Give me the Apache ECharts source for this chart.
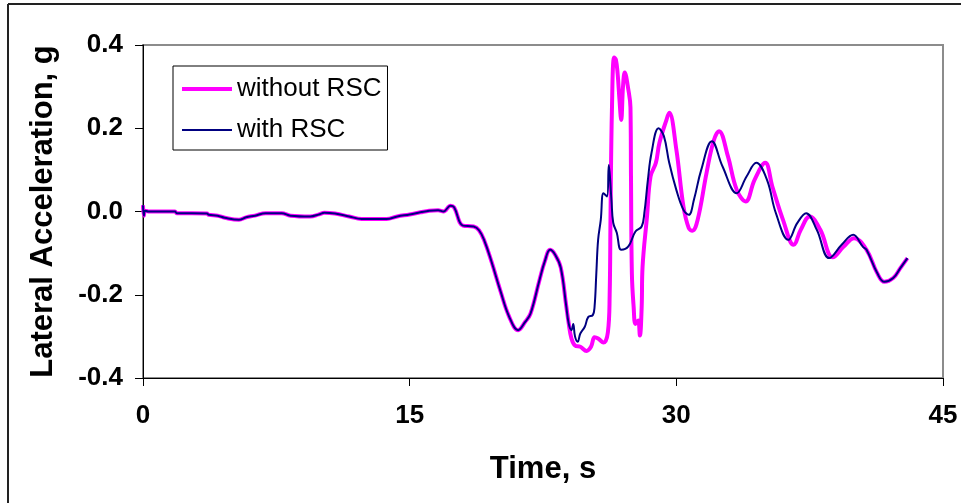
<!DOCTYPE html>
<html>
<head>
<meta charset="utf-8">
<script src="https://cdn.jsdelivr.net/npm/echarts@6/dist/echarts.min.js"></script>
<style>
html,body{margin:0;padding:0;background:#fff;}
#chart{width:961px;height:503px;}
</style>
</head>
<body>
<div id="chart"></div>
<script>
// Shared portion (both runs identical until ~24 s): [time s, lateral acceleration g]
var sharedPart = [
  [0,0.015],[0.05,-0.01],[0.12,0.002],[0.3,0],[1.8,0],[1.9,-0.004],[3.6,-0.005],[3.7,-0.008],
  [4.2,-0.01],[4.6,-0.015],[5.4,-0.02],[5.8,-0.014],[6.3,-0.01],[6.9,-0.004],[7.8,-0.004],
  [8.3,-0.01],[9.4,-0.012],[9.9,-0.007],[10.2,-0.003],[10.8,-0.005],[11.6,-0.012],[12.3,-0.018],
  [13.7,-0.018],[14.3,-0.012],[15,-0.007],[15.6,-0.002],[16.1,0.002],[16.6,0.003],[16.9,0],
  [17.3,0.014],[17.5,0.01],[18.0,-0.034],[18.6,-0.036],[18.9,-0.045],[19.2,-0.07],[19.6,-0.12],
  [20.1,-0.19],[20.6,-0.253],[21.1,-0.285],[21.5,-0.265],[21.8,-0.245],[22.3,-0.165],[22.6,-0.12],
  [22.9,-0.092],[23.2,-0.105],[23.5,-0.135],[23.8,-0.225],[23.95,-0.27]
];
var withoutTail = [
  [24.1,-0.305],[24.3,-0.322],[24.6,-0.325],[24.95,-0.335],[25.2,-0.325],[25.4,-0.302],[25.6,-0.305],
  [25.9,-0.315],[26.15,-0.29],[26.25,-0.2],[26.3,0.0],[26.38,0.25],[26.5,0.37],[26.6,0.365],
  [26.7,0.33],[26.8,0.27],[26.9,0.22],[27.0,0.3],[27.1,0.334],[27.3,0.293],[27.42,0.25],
  [27.45,0.08],[27.5,-0.15],[27.6,-0.23],[27.7,-0.27],[27.85,-0.262],[27.95,-0.298],[28.05,-0.23],
  [28.1,-0.133],[28.35,-0.012],[28.55,0.084],[28.85,0.117],[29.05,0.165],[29.45,0.221],[29.6,0.237],
  [30.0,0.149],[30.4,0.012],[30.7,-0.04],[30.9,-0.046],[31.2,-0.02],[31.7,0.093],[32.1,0.17],
  [32.4,0.193],[32.9,0.133],[33.4,0.052],[33.9,0.024],[34.4,0.076],[35.0,0.117],[35.4,0.06],
  [36.0,-0.02],[36.6,-0.08],[37.0,-0.044],[37.5,-0.012],[38.1,-0.044],[38.8,-0.11],[39.4,-0.085],
  [40.0,-0.064],[40.7,-0.092],[41.3,-0.148],[41.7,-0.169],[42.2,-0.16],[42.6,-0.136],[43.0,-0.112]
];
var withTail = [
  [24.1,-0.285],[24.2,-0.27],[24.3,-0.3],[24.45,-0.313],[24.6,-0.293],[24.85,-0.277],[25.05,-0.253],
  [25.3,-0.249],[25.4,-0.229],[25.5,-0.148],[25.6,-0.068],[25.75,-0.02],[25.9,0.044],[26.1,0.036],
  [26.2,0.112],[26.35,0.028],[26.45,-0.027],[26.65,-0.051],[26.9,-0.092],[27.3,-0.084],[27.7,-0.048],
  [28.05,-0.036],[28.2,-0.004],[28.4,0.076],[28.6,0.14],[29.0,0.2],[29.3,0.181],[29.6,0.117],
  [30.0,0.052],[30.4,0.004],[30.7,-0.008],[31.0,0.03],[31.4,0.1],[32.0,0.169],[32.6,0.108],
  [33.4,0.044],[33.95,0.084],[34.5,0.117],[35.1,0.076],[35.6,-0.004],[36.3,-0.068],[36.8,-0.028],
  [37.3,-0.004],[37.9,-0.044],[38.6,-0.112],[39.3,-0.08],[39.95,-0.056],[40.5,-0.085],[40.7,-0.092],
  [41.3,-0.148],[41.7,-0.169],[42.2,-0.16],[42.6,-0.136],[43.0,-0.112]
];
var seriesNames = ['without RSC', 'with RSC'];
var xTicks = {min: 0, max: 45, interval: 15};
var yTicks = {min: -0.4, max: 0.4, interval: 0.2};

var withoutRSC = sharedPart.concat(withoutTail);
var withRSC = sharedPart.concat(withTail);

var FONT = '"Liberation Sans", Arial, sans-serif';
var chart = echarts.init(document.getElementById('chart'), null, {renderer: 'canvas'});
chart.setOption({
  animation: false,
  backgroundColor: '#fff',
  graphic: [
    {type: 'line', shape: {x1: 8, y1: 4, x2: 961, y2: 4}, style: {stroke: '#222', lineWidth: 2}},
    {type: 'line', shape: {x1: 8, y1: 4, x2: 8, y2: 503}, style: {stroke: '#222', lineWidth: 2}}
  ],
  grid: {left: 143, top: 45, right: 18, bottom: 125, show: true, borderColor: '#8c8c8c', borderWidth: 2, backgroundColor: 'transparent'},
  legend: {
    left: 173, top: 66, orient: 'vertical',
    backgroundColor: '#fff', borderColor: '#000', borderWidth: 1,
    padding: [10, 6, 7, 9],
    itemWidth: 50, itemHeight: 14, itemGap: 15,
    textStyle: {fontFamily: FONT, fontSize: 26, color: '#000'},
    data: [
      {name: seriesNames[0], icon: 'path://M0,0L0.01,0Z M0,5h50v4h-50Z M0,14L0.01,14Z', itemStyle: {color: '#ff00ff'}},
      {name: seriesNames[1], icon: 'path://M0,0L0.01,0Z M0,6h50v2h-50Z M0,14L0.01,14Z', itemStyle: {color: '#000080'}}
    ]
  },
  xAxis: {
    type: 'value', min: xTicks.min, max: xTicks.max, interval: xTicks.interval,
    name: 'Time, s', nameLocation: 'middle', nameGap: 76,
    nameTextStyle: {fontFamily: FONT, fontSize: 31, fontWeight: 'bold', color: '#000'},
    axisLine: {show: true, onZero: false, lineStyle: {color: '#000', width: 1}},
    axisTick: {show: true, inside: false, length: 8, lineStyle: {color: '#000'}},
    axisLabel: {fontFamily: FONT, fontSize: 26, fontWeight: 'bold', color: '#000', margin: 25},
    splitLine: {show: false}
  },
  yAxis: {
    type: 'value', min: yTicks.min, max: yTicks.max, interval: yTicks.interval,
    name: 'Lateral Acceleration, g', nameLocation: 'middle', nameGap: 84,
    nameTextStyle: {fontFamily: FONT, fontSize: 31, fontWeight: 'bold', color: '#000'},
    axisLine: {show: true, onZero: false, lineStyle: {color: '#000', width: 1}},
    axisTick: {show: true, inside: false, length: 8, lineStyle: {color: '#000'}},
    axisLabel: {fontFamily: FONT, fontSize: 26, fontWeight: 'bold', color: '#000', margin: 20,
      formatter: function (v) { return v.toFixed(1); }},
    splitLine: {show: false}
  },
  series: [
    {name: seriesNames[0], type: 'line', data: withoutRSC, showSymbol: false, symbol: 'none',
     smooth: 0.4, lineStyle: {color: '#ff00ff', width: 4}, itemStyle: {color: '#ff00ff'}, z: 2},
    {name: seriesNames[1], type: 'line', data: withRSC, showSymbol: false, symbol: 'none',
     smooth: 0.4, lineStyle: {color: '#000080', width: 2}, itemStyle: {color: '#000080'}, z: 3}
  ]
});
</script>
</body>
</html>
